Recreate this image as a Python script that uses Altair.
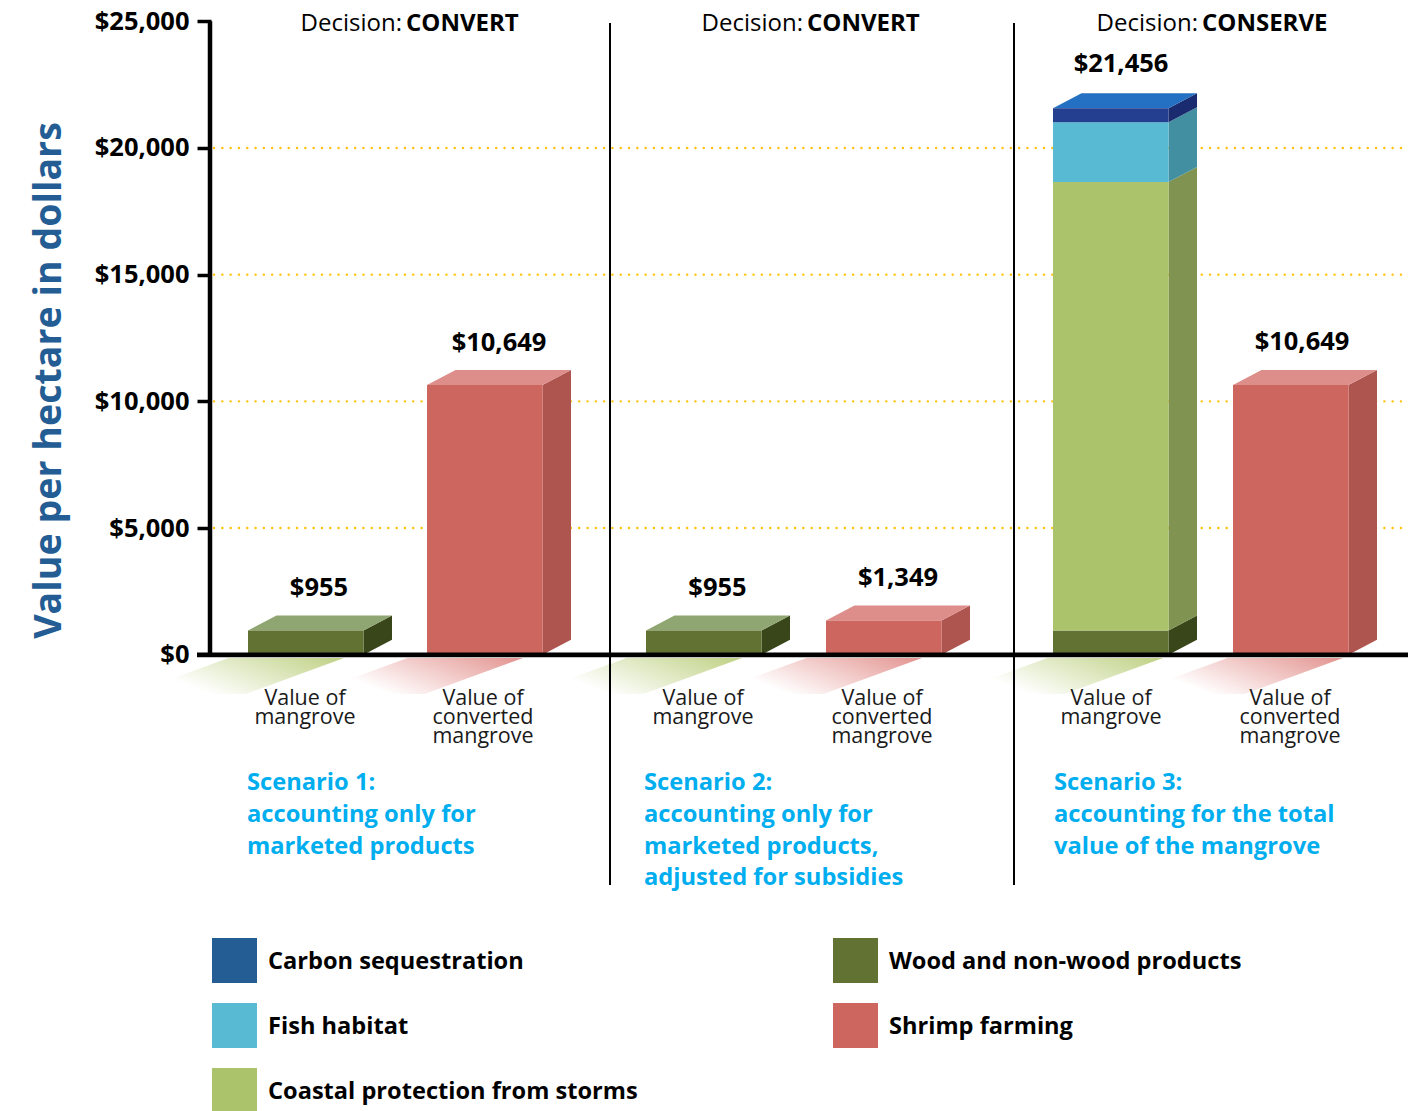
import altair as alt
import pandas as pd

# ---------- data ----------
AXIS_VALUES = [0, 5000, 10000, 15000, 20000, 25000]
GRID_VALUES = [5000, 10000, 15000, 20000]
SERIES = ["Carbon sequestration", "Fish habitat", "Coastal protection from storms",
          "Wood and non-wood products", "Shrimp farming"]
WOOD = [955, 955, 955]
COASTAL_S3 = 17705
FISH_S3 = 2360
CARBON_S3 = 550
SHRIMP = [10649, 1349, 10649]
VALUE_LABELS = ["$955", "$10,649", "$955", "$1,349", "$21,456", "$10,649"]
DECISIONS = ["CONVERT", "CONVERT", "CONSERVE"]
CAT_LABELS = [["Value of", "mangrove"], ["Value of", "converted", "mangrove"]]
SCENARIOS = [["Scenario 1:", "accounting only for", "marketed products"],
             ["Scenario 2:", "accounting only for", "marketed products,", "adjusted for subsidies"],
             ["Scenario 3:", "accounting for the total", "value of the mangrove"]]

# ---------- styles ----------
FONT = "Open Sans"
FRONT = {"wood": "#627233", "coastal": "#ABC46C", "fish": "#59BBD3", "carbon": "#243F8F", "shrimp": "#CE6660"}
SIDE = {"wood": "#38461A", "coastal": "#809351", "fish": "#438FA2", "carbon": "#1A2B70", "shrimp": "#AE554F"}
TOP = {"wood": "#90A672", "carbon": "#2470C2", "shrimp": "#DE8E8A"}
LEGEND_COL = ["#235D94", "#59BBD3", "#ABC46C", "#627233", "#CE6660"]
BLUE = "#00AEEF"

# ---------- layout ----------
PX = 25000 / 633.4
BASE = 654.7
yd = lambda p: (BASE - p) * PX
LEFT, RIGHT, CTOP, CBOT = 211, 1410, 8, 1111
SLOTS = [248, 427, 646, 826, 1053, 1233]
BW = 115.5
DX, DY = 28.5, 15 * PX
SH_SHIFT = [-14, -14, -14, -14, 0, 0]
Y_TITLE = "Value per hectare in dollars"

yaxis = alt.Axis(values=AXIS_VALUES, domain=False, grid=False, format="$,.0f",
                 tickSize=14, tickWidth=3.5, tickColor="#000000",
                 labelFont=FONT, labelFontWeight="bold", labelFontSize=25.5,
                 labelColor="#000000", labelPadding=8, labelOverlap=False,
                 titleFont=FONT, titleFontWeight="bold", titleFontSize=37.6,
                 titleColor="#235D94", titleAngle=270, titleAlign="center",
                 titleBaseline="middle", titleX=49 - LEFT, titleY=380 - CTOP)

xs = alt.Scale(domain=[LEFT, RIGHT], nice=False, zero=False)
ys = alt.Scale(domain=[yd(CBOT), yd(CTOP)], nice=False, zero=False)
X = lambda f="x": alt.X(f"{f}:Q", scale=xs, axis=None, title=None, stack=None)
Y = lambda f="y": alt.Y(f"{f}:Q", scale=ys, axis=yaxis, title=Y_TITLE, stack=None)
X2 = alt.X2("x2:Q")
Y2 = alt.Y2("y2:Q")

# build segments
stacks = [
    [("wood", WOOD[0])], [("shrimp", SHRIMP[0])],
    [("wood", WOOD[1])], [("shrimp", SHRIMP[1])],
    [("wood", WOOD[2]), ("coastal", COASTAL_S3), ("fish", FISH_S3), ("carbon", CARBON_S3)],
    [("shrimp", SHRIMP[2])],
]
front, side, top = [], [], []
for i, st in enumerate(stacks):
    l = SLOTS[i]
    r = l + BW
    base = 0
    for j, (k, v) in enumerate(st):
        t = base + v
        front.append(dict(x=l, x2=r, y=base, y2=t, c=FRONT[k]))
        gid = f"{i}-{j}"
        side.append(dict(g=gid, x=r, y=base, y2=t, c=SIDE[k]))
        side.append(dict(g=gid, x=r + DX, y=base + DY, y2=t + DY, c=SIDE[k]))
        base = t
    k = st[-1][0]
    gid = f"t{i}"
    top.append(dict(g=gid, y=base, x=l, x2=r, c=TOP[k]))
    top.append(dict(g=gid, y=base + DY, x=l + DX, x2=r + DX, c=TOP[k]))

front_l = alt.Chart(pd.DataFrame(front)).mark_rect(strokeWidth=0).encode(
    x=X(), x2=X2, y=Y(), y2=Y2, color=alt.Color("c:N", scale=None))
side_l = alt.Chart(pd.DataFrame(side)).mark_area(interpolate="linear", orient="vertical").encode(
    x=X(), y=Y(), y2=Y2, color=alt.Color("c:N", scale=None), detail="g:N")
top_l = alt.Chart(pd.DataFrame(top)).mark_area(interpolate="linear", orient="horizontal").encode(
    y=Y(), x=X(), x2=X2, color=alt.Color("c:N", scale=None), detail="g:N")

# shadows
def shadow(i, col):
    r = SLOTS[i] + BW + SH_SHIFT[i]
    l = SLOTS[i] + SH_SHIFT[i]
    sh = 104
    df = pd.DataFrame([dict(y=yd(656), x=l, x2=r), dict(y=yd(694), x=l - sh, x2=r - sh)])
    grad = alt.Gradient(gradient="linear", x1=1, y1=0, x2=0.1, y2=0.4,
                        stops=[alt.GradientStop(color=col, offset=0.05),
                               alt.GradientStop(color="#FFFFFF", offset=1)])
    return alt.Chart(df).mark_area(orient="horizontal", interpolate="linear", color=grad).encode(
        y=Y(), x=X(), x2=X2)

shadows = [shadow(i, "#BFD184" if i % 2 == 0 else "#E39490") for i in range(6)]

# rules
grid_l = alt.Chart(pd.DataFrame({"y": GRID_VALUES, "x": 214, "x2": 1408})).mark_rule(
    color="#FFC20E", strokeWidth=2.4, strokeDash=[0.1, 8.2], strokeCap="round").encode(x=X(), x2=X2, y=Y())
yaxis_l = alt.Chart(pd.DataFrame({"x": [210], "y": [0], "y2": [25000]})).mark_rule(
    color="#000000", strokeWidth=4.5).encode(x=X(), y=Y(), y2=Y2)
xaxis_under = alt.Chart(pd.DataFrame({"y": [yd(657.5)], "x": [197], "x2": [1408]})).mark_rule(
    color="#C4C4C4", strokeWidth=1).encode(x=X(), x2=X2, y=Y())
xaxis_l = alt.Chart(pd.DataFrame({"y": [0], "x": [197], "x2": [1408]})).mark_rule(
    color="#000000", strokeWidth=4.5).encode(x=X(), x2=X2, y=Y())
sep_l = alt.Chart(pd.DataFrame({"x": [610, 1014], "y": [yd(885)] * 2, "y2": [yd(23)] * 2})).mark_rule(
    color="#000000", strokeWidth=2).encode(x=X(), y=Y(), y2=Y2)

def text(rows, size, weight="normal", color="#000000", align="center"):
    df = pd.DataFrame(rows, columns=["x", "py", "t"])
    df["y"] = (df["py"] + 1).map(yd)
    return alt.Chart(df).mark_text(font=FONT, fontSize=size, fontWeight=weight, color=color,
                                   align=align, baseline="middle").encode(
        x=X(), y=Y(), text="t:N")

dec_l = text([(x, 23, "Decision:") for x in (402, 803, 1198)], 24, align="right")
dec_b = text([(x, 23, d) for x, d in zip((406, 807, 1202), DECISIONS)], 24, "bold", align="left")
val_pos = [(319, 587), (499, 342), (717.5, 587), (898, 577), (1121, 63), (1302, 341)]
val_l = text([(x, y, s) for (x, y), s in zip(val_pos, VALUE_LABELS)], 25.5, "bold")
cat_x = [305, 483, 703, 882, 1111, 1290]
cat_rows = []
for i, cx in enumerate(cat_x):
    for j, s in enumerate(CAT_LABELS[i % 2]):
        cat_rows.append((cx, 698 + 19 * j, s))
cat_l = text(cat_rows, 21.5, color="#1A1A1A")
scen_rows = []
for sx, lines in zip((247, 644, 1054), SCENARIOS):
    for j, s in enumerate(lines):
        scen_rows.append((sx, 782 + 31.8 * j, s))
scen_l = text(scen_rows, 23.7, "bold", BLUE, "left")

leg_pos = [(212, 938, 268), (212, 1003, 268), (212, 1068, 268), (833, 938, 889), (833, 1003, 889)]
leg_rects = pd.DataFrame([dict(x=a, x2=a + 45, y=yd(b + 45), y2=yd(b), c=c)
                          for (a, b, _), c in zip(leg_pos, LEGEND_COL)])
leg_sq = alt.Chart(leg_rects).mark_rect(strokeWidth=0).encode(
    x=X(), x2=X2, y=Y(), y2=Y2, color=alt.Color("c:N", scale=None))
leg_t = text([(tx, b + 23, s) for (_, b, tx), s in zip(leg_pos, SERIES)], 23.6, "bold", align="left")

chart = alt.layer(
    grid_l, *shadows, xaxis_under, side_l, top_l, front_l, yaxis_l, xaxis_l, sep_l,
    dec_l, dec_b, val_l, cat_l, scen_l, leg_sq, leg_t,
).properties(
    width=RIGHT - LEFT, height=CBOT - CTOP,
    padding={"left": LEFT - 8, "top": 0, "right": 0, "bottom": 0},
    autosize=alt.AutoSizeParams(type="none", contains="content"),
    background="#FFFFFF",
).configure_view(stroke=None)

chart.save("out.html", embed_options={"renderer": "svg", "actions": False})
